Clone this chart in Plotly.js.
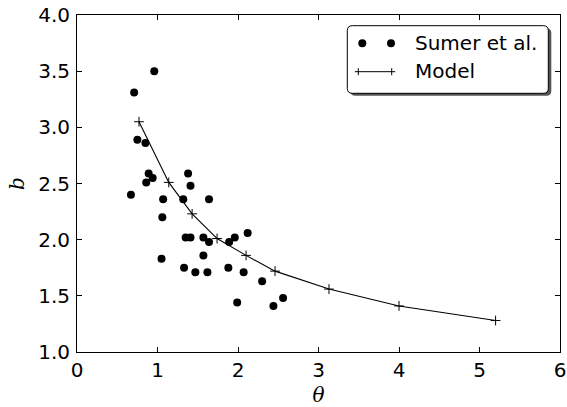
<!DOCTYPE html>
<html>
<head>
<meta charset="utf-8">
<script src="https://cdn.plot.ly/plotly-3.0.1.min.js"></script>
<style>html,body{margin:0;padding:0;background:#fff;}#chart{width:567px;height:407px;}</style>
</head>
<body>
<div id="chart"></div>
<script>
// Measured data (Sumer et al.)
const sumerTheta = [0.71, 0.96, 0.75, 0.85, 0.67, 0.89, 0.86, 0.94, 1.07, 1.06, 1.05, 1.38, 1.41, 1.32, 1.64, 1.35, 1.41, 1.57, 1.64, 1.89, 1.96, 2.12, 1.57, 1.33, 1.47, 1.62, 1.88, 2.07, 2.30, 1.99, 2.44, 2.56];
const sumerB     = [3.31, 3.50, 2.89, 2.86, 2.40, 2.59, 2.51, 2.55, 2.36, 2.20, 1.83, 2.59, 2.48, 2.36, 2.36, 2.02, 2.02, 2.02, 1.98, 1.98, 2.02, 2.06, 1.86, 1.75, 1.71, 1.71, 1.75, 1.71, 1.63, 1.44, 1.41, 1.48];
// Model curve
const modelTheta = [0.77, 1.14, 1.43, 1.74, 2.10, 2.46, 3.13, 4.00, 5.20];
const modelB     = [3.05, 2.51, 2.23, 2.01, 1.86, 1.72, 1.56, 1.41, 1.28];
// Axis ticks
const xTicks = [0, 1, 2, 3, 4, 5, 6];
const yTicks = [1.0, 1.5, 2.0, 2.5, 3.0, 3.5, 4.0];
const legendLabels = ["Sumer et al.", "Model"];

const FONT = "DejaVu Sans, Liberation Sans, sans-serif";
const W = 567, H = 407, L = 77, R = 7, T = 15, B = 55;
const pw = W - L - R, ph = H - T - B;
const px = v => (v - L) / pw;          // pixel -> paper x
const py = v => (H - B - v) / ph;      // pixel -> paper y

function roundRect(x0, y0, x1, y1, r) {
  const rx = r / pw, ry = r / ph;
  const a = px(x0), b = px(x1), c = py(y1), d = py(y0);
  return `M${a+rx},${d} L${b-rx},${d} Q${b},${d} ${b},${d-ry} L${b},${c+ry} Q${b},${c} ${b-rx},${c} L${a+rx},${c} Q${a},${c} ${a},${c+ry} L${a},${d-ry} Q${a},${d} ${a+rx},${d} Z`;
}

const traces = [
  {x: sumerTheta, y: sumerB, mode: 'markers', type: 'scatter', name: legendLabels[0],
   marker: {color: 'black', size: 8, symbol: 'circle'}, hoverinfo: 'x+y'},
  {x: modelTheta, y: modelB, mode: 'lines+markers', type: 'scatter', name: legendLabels[1],
   line: {color: 'black', width: 1.1},
   marker: {symbol: 'cross-thin', size: 7, color: 'black', line: {color: 'black', width: 1}}}
];

const lx0 = 347.3, ly0 = 25.7, lx1 = 548.3, ly1 = 93.3;
const shapes = [
  {type: 'path', xref: 'paper', yref: 'paper', path: roundRect(lx0 + 3, ly0 + 2.5, lx1 + 3, ly1 + 2.5, 5),
   fillcolor: '#555555', line: {width: 0}},
  {type: 'path', xref: 'paper', yref: 'paper', path: roundRect(lx0, ly0, lx1, ly1, 5),
   fillcolor: 'white', line: {color: 'black', width: 1}},
];
// legend symbols
[362.3, 391].forEach(cx => shapes.push({type: 'circle', xref: 'paper', yref: 'paper',
  xsizemode: 'pixel', ysizemode: 'pixel', xanchor: px(cx), yanchor: py(43.3),
  x0: -4, x1: 4, y0: -4, y1: 4, fillcolor: 'black', line: {width: 0}}));
shapes.push({type: 'line', xref: 'paper', yref: 'paper', x0: px(354.8), x1: px(395.2), y0: py(71.7), y1: py(71.7),
  line: {color: 'black', width: 1}});
[358.3, 391.7].forEach(cx => shapes.push({type: 'line', xref: 'paper', yref: 'paper',
  xsizemode: 'pixel', ysizemode: 'pixel', xanchor: px(cx), yanchor: py(71.7),
  x0: 0, x1: 0, y0: -3.5, y1: 3.5, line: {color: 'black', width: 1}}));

const annotations = [
  {xref: 'paper', yref: 'paper', x: px(413), y: py(42.5), xanchor: 'left', yanchor: 'middle',
   text: legendLabels[0], showarrow: false, font: {family: FONT, size: 20, color: 'black'}},
  {xref: 'paper', yref: 'paper', x: px(413), y: py(71), xanchor: 'left', yanchor: 'middle',
   text: legendLabels[1], showarrow: false, font: {family: FONT, size: 20, color: 'black'}}
];

const axisCommon = {
  showline: true, mirror: 'allticks', linecolor: 'black', linewidth: 1,
  ticks: 'inside', ticklen: 5, tickcolor: 'black', tickwidth: 1,
  showgrid: false, zeroline: false,
  tickfont: {family: FONT, size: 20, color: 'black'}
};

const layout = {
  width: W, height: H,
  margin: {l: L, r: R, t: T, b: B, pad: 0},
  paper_bgcolor: 'white', plot_bgcolor: 'white',
  showlegend: false,
  xaxis: Object.assign({}, axisCommon, {range: [0, 6], tickvals: xTicks, ticktext: xTicks.map(String),
    title: {text: 'θ', font: {family: 'DejaVu Serif, serif', size: 20, color: 'black', style: 'italic'}, standoff: 6}}),
  yaxis: Object.assign({}, axisCommon, {range: [1, 4], tickvals: yTicks, ticktext: yTicks.map(v => v.toFixed(1)),
    ticklabelstandoff: 2,
    title: {text: 'b', font: {family: 'DejaVu Serif, serif', size: 20, color: 'black', style: 'italic'}, standoff: 8}}),
  shapes: shapes,
  annotations: annotations
};

Plotly.newPlot('chart', traces, layout, {staticPlot: true, displayModeBar: false});
</script>
</body>
</html>
